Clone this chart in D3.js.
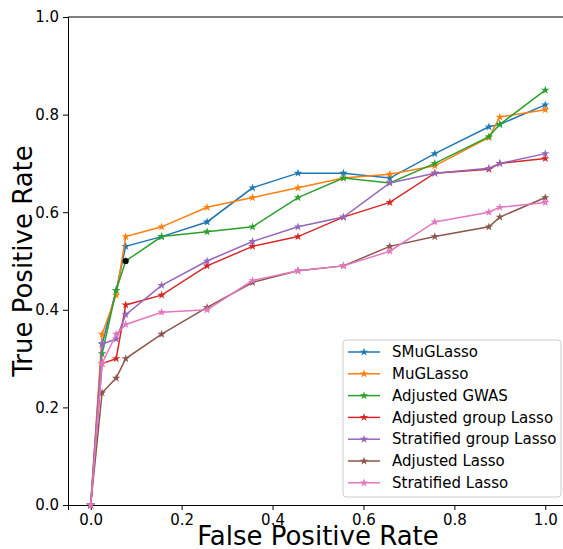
<!DOCTYPE html>
<html>
<head>
<meta charset="utf-8">
<script src="https://cdn.jsdelivr.net/npm/d3@7"></script>
<style>
body { margin: 0; background: #fff; }
text { font-family: "DejaVu Sans", sans-serif; }
</style>
</head>
<body>
<div class="chart"></div>
<script>
var svgWidth = 563;
var svgHeight = 549;
var margin = {top: 17, right: -5, bottom: 44, left: 68};
var width = svgWidth - margin.left - margin.right;
var height = svgHeight - margin.top - margin.bottom;

// false positive rate steps shared by every method
var fpr = [0, 0.025, 0.056, 0.077, 0.156, 0.256, 0.356, 0.456, 0.556, 0.658, 0.757, 0.876, 0.9, 1.0];

var names = ["SMuGLasso", "MuGLasso", "Adjusted GWAS", "Adjusted group Lasso",
             "Stratified group Lasso", "Adjusted Lasso", "Stratified Lasso"];
var colors = ["#1f77b4", "#ff7f0e", "#2ca02c", "#d62728", "#9467bd", "#8c564b", "#e377c2"];

var smuglasso   = [0, 0.33, 0.44, 0.53, 0.55, 0.58, 0.65, 0.68, 0.68, 0.67, 0.72, 0.775, 0.78, 0.82];
var muglasso    = [0, 0.35, 0.43, 0.55, 0.57, 0.61, 0.63, 0.65, 0.67, 0.678, 0.695, 0.753, 0.795, 0.81];
var adjGwas     = [0, 0.31, 0.44, 0.50, 0.55, 0.56, 0.57, 0.63, 0.67, 0.66, 0.70, 0.755, 0.78, 0.85];
var adjGroup    = [0, 0.29, 0.30, 0.41, 0.43, 0.49, 0.53, 0.55, 0.59, 0.62, 0.68, 0.688, 0.70, 0.71];
var stratGroup  = [0, 0.33, 0.34, 0.39, 0.45, 0.50, 0.54, 0.57, 0.59, 0.66, 0.68, 0.69, 0.70, 0.72];
var adjLasso    = [0, 0.23, 0.26, 0.30, 0.35, 0.405, 0.456, 0.48, 0.49, 0.53, 0.55, 0.57, 0.59, 0.63];
var stratLasso  = [0, 0.29, 0.35, 0.37, 0.395, 0.40, 0.46, 0.48, 0.49, 0.52, 0.58, 0.60, 0.61, 0.62];
var series = [smuglasso, muglasso, adjGwas, adjGroup, stratGroup, adjLasso, stratLasso];

// single black point
var dotFpr = [0.077];
var dotTpr = [0.50];

var ticks = [0, 0.2, 0.4, 0.6, 0.8, 1.0];

var svg = d3.select(".chart")
    .append("svg")
    .attr("width", svgWidth)
    .attr("height", svgHeight)
    .append("g")
    .attr("transform", "translate(" + margin.left + "," + margin.top + ")");

var xScale = d3.scaleLinear().domain([-0.05, 1.05]).range([0, width]);
var yScale = d3.scaleLinear().domain([0, 1]).range([height, 0]);

var bottomAxis = d3.axisBottom(xScale).tickValues(ticks).tickFormat(d3.format(".1f")).tickSizeOuter(0).tickSize(5).tickPadding(4);
var leftAxis = d3.axisLeft(yScale).tickValues(ticks).tickFormat(d3.format(".1f")).tickSizeOuter(0).tickSize(5).tickPadding(4);

var gx = svg.append("g").attr("transform", `translate(0, ${height})`).call(bottomAxis);
var gy = svg.append("g").call(leftAxis);
[gx, gy].forEach(function(g) {
    g.selectAll("text").attr("font-size", "15px").attr("fill", "#000");
    g.selectAll("line").attr("stroke", "#000").attr("stroke-width", 1);
    g.select(".domain").attr("stroke", "#000").attr("stroke-width", 1);
});
// top spine
svg.append("line").attr("x1", 0).attr("x2", width).attr("y1", 0).attr("y2", 0)
    .attr("stroke", "#000").attr("stroke-width", 1);

var line = d3.line()
    .x(function(d, i) { return xScale(fpr[i]); })
    .y(function(d) { return yScale(d); });

var star = d3.symbol().type(d3.symbolStar).size(22);

series.forEach(function(s, k) {
    svg.append("path")
        .datum(s)
        .attr("d", line)
        .attr("fill", "none")
        .attr("stroke", colors[k])
        .attr("stroke-width", 1.5);
    svg.selectAll(".m" + k)
        .data(s)
        .enter()
        .append("path")
        .attr("class", "m" + k)
        .attr("d", star)
        .attr("transform", function(d, i) { return "translate(" + xScale(fpr[i]) + "," + yScale(d) + ")"; })
        .attr("fill", colors[k]);
});

svg.selectAll(".dot")
    .data(dotTpr)
    .enter()
    .append("circle")
    .attr("cx", function(d, i) { return xScale(dotFpr[i]); })
    .attr("cy", function(d) { return yScale(d); })
    .attr("r", 3)
    .attr("fill", "#000");

// legend
var legend = svg.append("g").attr("transform", "translate(275, 323)");
legend.append("rect")
    .attr("width", 218).attr("height", 157).attr("rx", 3)
    .attr("fill", "#fff").attr("fill-opacity", 0.8)
    .attr("stroke", "#ccc");
names.forEach(function(n, k) {
    var yy = 12 + k * 21.8;
    legend.append("line").attr("x1", 5).attr("x2", 37).attr("y1", yy).attr("y2", yy)
        .attr("stroke", colors[k]).attr("stroke-width", 1.5);
    legend.append("path").attr("d", star).attr("transform", "translate(21," + yy + ")").attr("fill", colors[k]);
    legend.append("text").attr("x", 49).attr("y", yy).attr("dy", "0.35em")
        .attr("font-size", "15px").text(n);
});

svg.append("text")
    .attr("transform", "rotate(-90)")
    .attr("x", -height / 2)
    .attr("y", -36)
    .attr("text-anchor", "middle")
    .attr("font-size", "26px")
    .text("True Positive Rate");

svg.append("text")
    .attr("x", xScale(0.5))
    .attr("y", height + 40)
    .attr("text-anchor", "middle")
    .attr("font-size", "26px")
    .text("False Positive Rate");
</script>
</body>
</html>
